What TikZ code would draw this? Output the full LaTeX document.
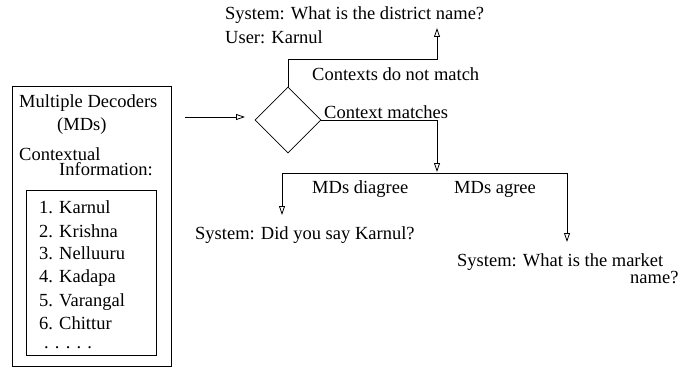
\documentclass[tikz,border=0pt]{standalone}
\usepackage{fontspec}
\setmainfont{Liberation Serif}
\usetikzlibrary{shapes.geometric,arrows.meta}
\begin{document}
\begin{tikzpicture}[x=1pt,y=-1pt,
  font=\fontsize{18.5}{22}\selectfont,
  txt/.style={inner sep=0pt, anchor=base west},
  conn/.style={line width=0.8pt},
  arr/.style={conn, -{Triangle[open,length=9pt,width=6pt]}},
  boxx/.style={draw, line width=0.8pt, inner sep=0pt, anchor=north west}]
\useasboundingbox (0,0) rectangle (678,369);
% left boxes
\node[boxx, minimum width=159pt, minimum height=280pt] (outer) at (12,86) {};
\node[boxx, minimum width=130pt, minimum height=165pt] (inner) at (26,190) {};
\node[txt] (t1) at (19,107) {Multiple Decoders};
\node[txt] (t2) at (57,130) {(MDs)};
\node[txt] (t3) at (19,160) {Contextual};
\node[txt] (t4) at (59,175) {Information:};
\node[txt] (i1) at (39,213) {1. Karnul};
\node[txt] (i2) at (39,237) {2. Krishna};
\node[txt] (i3) at (39,259) {3. Nelluuru};
\node[txt] (i4) at (39,282) {4. Kadapa};
\node[txt] (i5) at (39,306) {5. Varangal};
\node[txt] (i6) at (39,329) {6. Chittur};
\node[txt, text height=3pt, text depth=0pt] (i7) at (44,348) {. . . . .};
% decision
\node[diamond, draw, conn, minimum width=66pt, minimum height=66pt, inner sep=0pt, aspect=1] (dec) at (288,120) {};
\coordinate (inS) at (185,117);
\coordinate (inE) at (245,117);
\draw[arr] (inS) -- (inE);
\coordinate (top) at (437,28);
\draw[arr] (dec.north) -- ++(0,-27) -| (top);
\coordinate (mid) at (437,172);
\draw[arr] (dec.east) -| (mid);
\coordinate (bl) at (282,173);
\coordinate (br) at (567,173);
\draw[conn] (bl) -- (br);
\coordinate (lt) at (282,215);
\coordinate (rt) at (567,242);
\draw[arr] (bl) -- (lt);
\draw[arr] (br) -- (rt);
% texts
\node[txt] (s1) at (225,20) {System: What is the district name?};
\node[txt] (u1) at (225,44) {User: Karnul};
\node[txt] (l1) at (312,81) {Contexts do not match};
\node[txt] (l2) at (324,118) {Context matches};
\node[txt] (l3) at (312,193) {MDs diagree};
\node[txt] (l4) at (454,193) {MDs agree};
\node[txt] (s2) at (195,239) {System: Did you say Karnul?};
\node[txt] (s3) at (457,266) {System: What is the market};
\node[txt] (s4) at (630,283) {name?};
\end{tikzpicture}
\end{document}
